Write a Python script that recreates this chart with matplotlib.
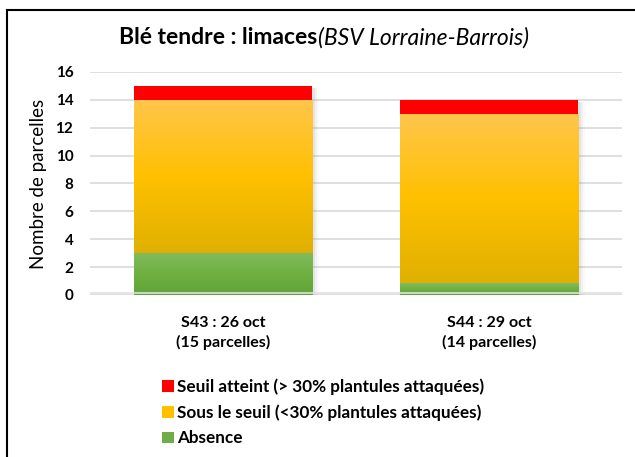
import numpy as np
import matplotlib
matplotlib.use("Agg")
from matplotlib import pyplot as plt
from matplotlib.patches import Patch, Rectangle
from matplotlib.colors import LinearSegmentedColormap

plt.rcParams['font.family'] = ['Lato', 'DejaVu Sans']

categories = ['S43 : 26 oct\n(15 parcelles)', 'S44 : 29 oct\n(14 parcelles)']
absence = [3, 0.85]
sous_seuil = [11, 12.15]
seuil_atteint = [1, 1]
yticks = [0, 2, 4, 6, 8, 10, 12, 14, 16]
labels = ['Seuil atteint (> 30% plantules attaquées)',
          'Sous le seuil (<30% plantules attaquées)',
          'Absence']

green_cm = LinearSegmentedColormap.from_list('g', ['#62a338', '#6fb041', '#82bb5d'])
orange_cm = LinearSegmentedColormap.from_list('o', ['#e0b000', '#ffc000', '#ffc64c'])


def grad_bar(ax, x, bottom, height, width, cmap):
    bars = ax.bar(x, height, width, bottom=bottom, color='none', zorder=2)
    for b in bars:
        grad = np.linspace(0, 1, 256).reshape(-1, 1)
        x0, y0 = b.get_x(), b.get_y()
        im = ax.imshow(grad, cmap=cmap, origin='lower', aspect='auto',
                       extent=[x0, x0 + b.get_width(), y0, y0 + b.get_height()],
                       zorder=2)
        im.set_clip_path(b)
    return bars


fig = plt.figure(figsize=(6.35, 4.57), dpi=100)
ax = fig.add_axes([0.1417, 0.3545, 0.838, 0.488])

x = np.arange(len(categories))
w = 0.67
# soft shadow to the right of each bar
for i in x:
    total = absence[i] + sous_seuil[i] + seuil_atteint[i]
    for k, a in enumerate([0.10, 0.07, 0.04]):
        ax.add_patch(Rectangle((i - w / 2 + 0.01 + 0.008 * k, -0.15), w, total,
                               facecolor='#808080', alpha=a, lw=0, zorder=1.5))

bottoms2 = [a + s for a, s in zip(absence, sous_seuil)]
grad_bar(ax, x, [0, 0], absence, w, green_cm)
grad_bar(ax, x, absence, sous_seuil, w, orange_cm)
ax.bar(x, seuil_atteint, w, bottom=bottoms2, color='#ff0000', zorder=2)

ax.set_xlim(-0.5, 1.5)
ax.set_ylim(0, 16)
ax.set_yticks(yticks)
ax.set_yticklabels([str(t) for t in yticks], fontweight='bold', fontsize=11)
ax.set_xticks(x)
ax.set_xticklabels(categories, fontweight='bold', fontsize=11.5, linespacing=1.45)
ax.tick_params(axis='both', length=0)
ax.tick_params(axis='y', pad=12)
ax.tick_params(axis='x', pad=15)
for s in ax.spines.values():
    s.set_visible(False)
ax.yaxis.grid(True, color='#d9d9d9', lw=1.2, zorder=0)
ax.set_axisbelow(True)
ax.axhline(0.12, color='#e0e0e0', lw=1.2, zorder=3)
ax.set_ylabel('Nombre de parcelles', fontsize=13.5, labelpad=6)

fig.text(0.5, 0.917, 'Blé tendre : limaces', fontsize=16.5, fontweight='bold',
         ha='right', va='center')
fig.text(0.5, 0.917, '(BSV Lorraine-Barrois)', fontsize=16.5, style='italic',
         ha='left', va='center')

handles = [Patch(facecolor='#ff0000'), Patch(facecolor='#ffc000'),
           Patch(facecolor='#70ad47')]
fig.legend(handles, labels, loc='upper left', bbox_to_anchor=(0.245, 0.187),
           frameon=False, prop={'weight': 'bold', 'size': 12.3},
           handlelength=0.65, handleheight=0.65, handletextpad=0.2,
           labelspacing=0.55, borderaxespad=0)

# chart area border (only top and left visible in the picture)
fig.add_artist(plt.Line2D([7 / 635, 7 / 635], [0, 1 - 10 / 457], color='black',
                          lw=1.5, transform=fig.transFigure))
fig.add_artist(plt.Line2D([7 / 635, 1], [1 - 10 / 457, 1 - 10 / 457], color='black',
                          lw=1.5, transform=fig.transFigure))

fig.savefig('out.png', dpi=100)
